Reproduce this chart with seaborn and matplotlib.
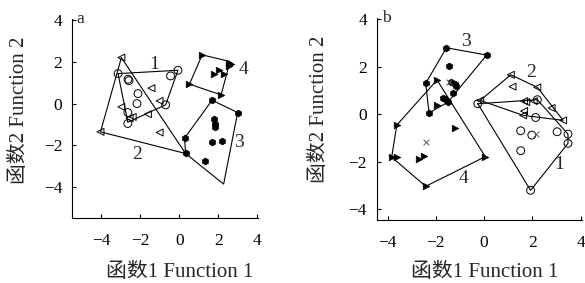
import matplotlib
matplotlib.use('Agg')
import matplotlib.pyplot as plt
import seaborn as sns

sns.set_theme(style='ticks')
plt.rcParams['font.family'] = ['Liberation Serif', 'Noto Sans CJK SC']
plt.rcParams['axes.unicode_minus'] = True

# ---- panel a data ----
a1_x = [-3.14, -2.63, -2.58, -2.12, -2.17, -0.45, -0.07, -0.70, -2.64, -2.64]
a1_y = [1.44, 1.17, 1.10, 0.48, 0.00, 1.33, 1.60, -0.06, -0.43, -0.96]
a2_x = [-2.97, -1.43, -1.01, -2.97, -2.39, -2.55, -1.61, -4.04, -1.01]
a2_y = [2.21, 0.74, 0.13, -0.16, -0.64, -0.70, -0.51, -1.36, -1.39]
a3_x = [1.68, 2.99, 0.27, 0.32, 1.80, 1.82, 1.84, 1.67, 2.17, 1.34]
a3_y = [0.16, -0.43, -1.66, -2.40, -0.75, -0.99, -1.15, -1.87, -1.79, -2.78]
a4_x = [1.17, 2.56, 2.53, 2.65, 0.52, 2.14, 1.80, 2.02, 2.31]
a4_y = [2.34, 1.97, 1.81, 1.88, 0.93, 0.42, 1.41, 1.60, 1.41]

# polygon outlines (vertices in drawing order)
a1_poly_x = [-3.14, -0.07, -0.70, -2.64]
a1_poly_y = [1.44, 1.60, -0.06, -0.90]
a2_poly_x = [-2.97, 0.32, -4.04]
a2_poly_y = [2.21, -2.40, -1.36]
a3_poly_x = [0.27, 1.68, 2.99, 2.27, 0.32]
a3_poly_y = [-1.66, 0.16, -0.43, -3.87, -2.40]
a4_poly_x = [1.17, 2.60, 2.14, 0.52]
a4_poly_y = [2.34, 2.02, 0.42, 0.93]

a_lab_x = [-1.27, -2.18, 3.07, 3.29]
a_lab_y = [1.89, -2.43, -1.87, 1.65]

# ---- panel b data ----
b1_x = [-0.26, 2.21, 2.14, 1.52, 1.98, 3.03, 3.48, 3.48, 1.52, 1.93]
b1_y = [0.45, 0.62, -0.13, -0.69, -0.87, -0.73, -0.83, -1.22, -1.53, -3.20]
b2_x = [1.11, 1.18, 2.21, 2.80, 3.28, -0.16, 1.66, 1.75, 2.06, 1.66, 1.62]
b2_y = [1.67, 1.17, 1.14, 0.27, -0.25, 0.59, 0.56, 0.52, 0.56, 0.14, -0.04]
b3_x = [-1.56, 0.11, -1.46, -2.42, -1.36, -1.22, -1.15, -1.29, -1.70, -1.64, -1.50, -2.28]
b3_y = [2.81, 2.50, 2.05, 1.31, 1.35, 1.28, 1.21, 0.91, 0.68, 0.63, 0.52, 0.06]
b4_x = [-1.95, -3.62, -3.83, -3.60, -2.69, -2.50, -2.42, 0.05, -1.22, -1.95]
b4_y = [1.45, -0.45, -1.80, -1.78, -1.89, -1.74, -3.03, -1.78, -0.57, 0.38]
b_cent_x = [2.14, -1.46, -2.39]
b_cent_y = [-0.83, 1.35, -1.15]

b1_poly_x = [-0.26, 2.21, 3.48, 3.48, 1.93]
b1_poly_y = [0.45, 0.62, -0.83, -1.22, -3.20]
b2_poly_x = [-0.16, 1.11, 2.21, 3.28, 1.62]
b2_poly_y = [0.59, 1.67, 1.14, -0.25, -0.04]
b3_poly_x = [-1.56, 0.11, -1.50, -2.28, -2.42]
b3_poly_y = [2.81, 2.50, 0.52, 0.06, 1.31]
b4_poly_x = [-1.95, 0.05, -2.42, -3.83, -3.62]
b4_poly_y = [1.45, -1.78, -3.03, -1.80, -0.45]

b_lab_x = [3.13, 1.93, -0.77, -0.85]
b_lab_y = [-2.12, 1.77, 3.09, -2.68]

group_labels = ['1', '2', '3', '4']
ticks = [-4, -2, 0, 2, 4]
tick_text = ['\u22124', '\u22122', '0', '2', '4']

fig = plt.figure(figsize=(5.85, 2.83), dpi=100)
ax_a = fig.add_axes([0.1231, 0.2297, 0.3185, 0.7021])
ax_b = fig.add_axes([0.6440, 0.2226, 0.3504, 0.7127])

open_kw = dict(facecolor='none', edgecolor='black', linewidth=0.7)
fill_kw = dict(color='black', edgecolor='black', linewidth=0.5)


def draw_poly(ax, px, py):
    xs = list(px) + [px[0]]
    ys = list(py) + [py[0]]
    ax.plot(xs, ys, color='black', linewidth=0.8, zorder=1)


def style_axes(ax, lim_lo, letter, xlab_pos, ylab_pos):
    ax.set_xlim(lim_lo, 4.05)
    ax.set_ylim(lim_lo, 4.05)
    ax.set_xticks(ticks)
    ax.set_yticks(ticks)
    ax.set_xticklabels(tick_text)
    ax.set_yticklabels(tick_text)
    for s in ['top', 'right']:
        ax.spines[s].set_visible(False)
    for s in ['left', 'bottom']:
        ax.spines[s].set_linewidth(0.8)
        ax.spines[s].set_color('black')
    ax.tick_params(direction='in', length=3, width=0.8, labelsize=12.5,
                   colors='black')
    ax.tick_params(axis='x', pad=11)
    ax.tick_params(axis='y', pad=7)
    ax.set_xlabel('函数1 Function 1', fontsize=15)
    ax.set_ylabel('函数2 Function 2', fontsize=15)
    ax.xaxis.set_label_coords(*xlab_pos)
    ax.yaxis.set_label_coords(*ylab_pos)
    ax.text(0.025, 1.0, letter, transform=ax.transAxes, fontsize=12.5,
            va='center', ha='left')


# panel a
for px, py in [(a1_poly_x, a1_poly_y), (a2_poly_x, a2_poly_y),
               (a3_poly_x, a3_poly_y), (a4_poly_x, a4_poly_y)]:
    draw_poly(ax_a, px, py)
sns.scatterplot(x=a1_x, y=a1_y, marker='o', s=32, ax=ax_a, zorder=3, **open_kw)
sns.scatterplot(x=a2_x, y=a2_y, marker='<', s=25, ax=ax_a, zorder=3, **open_kw)
sns.scatterplot(x=a3_x, y=a3_y, marker='h', s=24, ax=ax_a, zorder=3, **fill_kw)
sns.scatterplot(x=a4_x, y=a4_y, marker='>', s=22, ax=ax_a, zorder=3, **fill_kw)
for t, x, y in zip(group_labels, a_lab_x, a_lab_y):
    ax_a.text(x, y, t, fontsize=14, ha='center', va='center')
style_axes(ax_a, -5.5, 'a', (0.58, -0.225), (-0.231, 0.544))

# panel b
for px, py in [(b1_poly_x, b1_poly_y), (b2_poly_x, b2_poly_y),
               (b3_poly_x, b3_poly_y), (b4_poly_x, b4_poly_y)]:
    draw_poly(ax_b, px, py)
sns.scatterplot(x=b1_x, y=b1_y, marker='o', s=32, ax=ax_b, zorder=3, **open_kw)
sns.scatterplot(x=b2_x, y=b2_y, marker='<', s=25, ax=ax_b, zorder=3, **open_kw)
sns.scatterplot(x=b3_x, y=b3_y, marker='h', s=24, ax=ax_b, zorder=3, **fill_kw)
sns.scatterplot(x=b4_x, y=b4_y, marker='>', s=22, ax=ax_b, zorder=3, **fill_kw)
sns.scatterplot(x=b_cent_x, y=b_cent_y, marker='x', s=18, color='0.35',
                linewidth=0.7, ax=ax_b, zorder=3)
for t, x, y in zip(group_labels, b_lab_x, b_lab_y):
    ax_b.text(x, y, t, fontsize=14, ha='center', va='center')
style_axes(ax_b, -4.45, 'b', (0.528, -0.213), (-0.233, 0.548))

fig.savefig('out.png', dpi=100)
